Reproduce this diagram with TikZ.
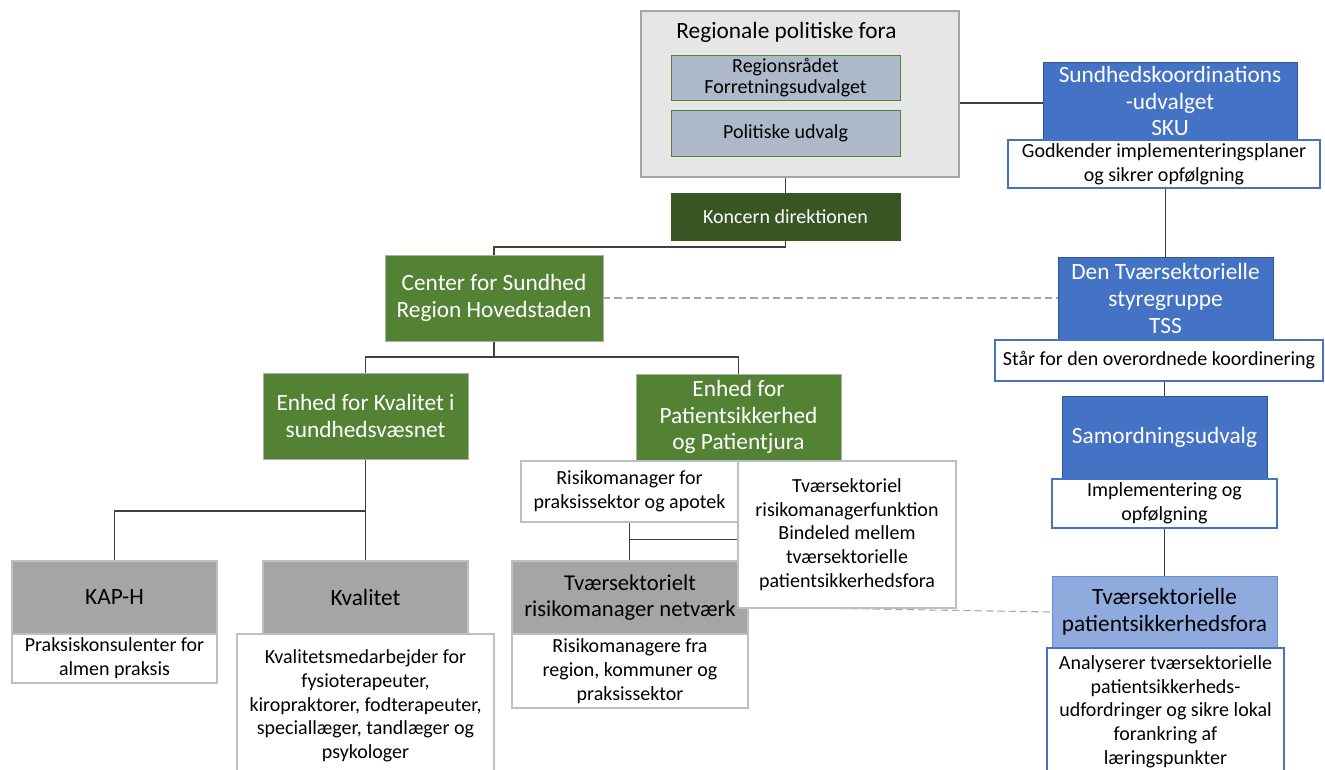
\documentclass[tikz,border=0pt]{standalone}
\usepackage{fontspec}
\setmainfont{Carlito}
\usetikzlibrary{backgrounds,calc}
\definecolor{outergray}{HTML}{E7E6E6}
\definecolor{outerline}{HTML}{A6A6A6}
\definecolor{slate}{HTML}{ADB9CA}
\definecolor{dkgreen}{HTML}{375623}
\definecolor{midgreen}{HTML}{548235}
\definecolor{boxgray}{HTML}{A5A5A5}
\definecolor{lightline}{HTML}{BFBFBF}
\definecolor{blue1}{HTML}{4472C4}
\definecolor{blue1line}{HTML}{2F5597}
\definecolor{blue2}{HTML}{8FAADC}
\definecolor{conn}{HTML}{404040}
\tikzset{
  bigtxt/.style={font=\fontsize{17.5}{20}\selectfont},
  smalltxt/.style={font=\fontsize{15}{17.8}\selectfont},
  tinytxt/.style={font=\fontsize{15}{15.8}\selectfont},
  base/.style={rectangle, inner sep=0pt, outer sep=0pt, align=center},
  outerbox/.style={base, fill=outergray, draw=outerline, line width=0.9pt},
  slatebox/.style={base, fill=slate, draw=midgreen, line width=0.6pt, tinytxt},
  dkgbox/.style={base, fill=dkgreen, draw=dkgreen, text=white, tinytxt},
  gbox/.style={base, fill=midgreen, draw=lightline!80!midgreen, line width=0.6pt, text=white, bigtxt},
  graybox/.style={base, fill=boxgray, draw=lightline, line width=0.8pt, bigtxt},
  wgbox/.style={base, fill=white, draw=lightline, line width=1.2pt, smalltxt},
  bbox/.style={base, fill=blue1, draw=blue1line, line width=0.6pt, text=white, bigtxt},
  lbbox/.style={base, fill=blue2, draw=blue1!80, line width=0.6pt, bigtxt},
  wbbox/.style={base, fill=white, draw=blue1, line width=1.2pt, smalltxt},
  link/.style={draw=conn, line width=0.8pt},
  dlink/.style={draw=outerline, line width=0.8pt, dash pattern=on 5.5pt off 3pt},
}
% \placebox{style}{name}{x1}{y1}{x2}{y2}{text}
\newcommand{\placebox}[7]{%
  \node[#1, minimum width={(#5-#3)*0.75pt}, minimum height={(#6-#4)*0.75pt}]
    (#2) at ({(#3+#5)/2},{(#4+#6)/2}) {#7};}
\begin{document}
\begin{tikzpicture}[x=0.75pt,y=-0.75pt]
\useasboundingbox (0,0) rectangle (1325,769);
% top political box
\placebox{outerbox}{reg}{641}{11}{959}{177}{}
\node[bigtxt] (regt) at (786.5,32) {Regionale politiske fora};
\placebox{slatebox}{rr}{671}{55}{900}{100}{Regionsrådet\\Forretningsudvalget}
\placebox{slatebox}{pu}{671}{110}{900}{156}{Politiske udvalg}
\placebox{dkgbox}{kd}{671}{193}{900}{240}{Koncern direktionen}
% green hierarchy
\placebox{gbox}{cs}{385}{255}{603}{341}{Center for Sundhed\\Region Hovedstaden}
\placebox{gbox}{ek}{263}{373}{468}{459}{Enhed for Kvalitet i\\sundhedsvæsnet}
\placebox{gbox}{ep}{636}{374}{841}{460}{Enhed for\\Patientsikkerhed\\og Patientjura}
% grey units
\placebox{graybox}{kap}{12}{561}{217}{634}{KAP-H}
\placebox{wgbox}{kapd}{12}{634}{217}{683}{Praksiskonsulenter for\\almen praksis}
\placebox{graybox}{kv}{263}{561}{468}{634}{Kvalitet}
\placebox{wgbox}{kvd}{237}{634}{494}{778}{Kvalitetsmedarbejder for\\fysioterapeuter,\\kiropraktorer, fodterapeuter,\\speciallæger, tandlæger og\\psykologer}
\placebox{wgbox}{rm}{521}{461}{738}{522}{Risikomanager for\\praksissektor og apotek}
\placebox{graybox, font=\fontsize{17}{20}\selectfont}{tn}{512}{561}{748}{634}{Tværsektorielt\\risikomanager netværk}
\placebox{wgbox}{tnd}{512}{634}{748}{708}{Risikomanagere fra\\region, kommuner og\\praksissektor}
\placebox{wgbox}{tf}{738}{461}{956}{608}{Tværsektoriel\\risikomanagerfunktion\\Bindeled mellem\\tværsektorielle\\patientsikkerhedsfora}
% right column
\placebox{bbox}{sku}{1043}{62}{1297}{140}{Sundhedskoordinations\\-udvalget\\SKU}
\placebox{wbbox}{skud}{1008}{140}{1320}{188}{Godkender implementeringsplaner\\og sikrer opfølgning}
\placebox{bbox}{tss}{1058}{257}{1273}{340}{Den Tværsektorielle\\styregruppe\\TSS}
\placebox{wbbox}{tssd}{995}{340}{1323}{381}{Står for den overordnede koordinering}
\placebox{bbox}{sam}{1062}{396}{1267}{479}{Samordningsudvalg}
\placebox{wbbox}{samd}{1052}{479}{1277}{528}{Implementering og\\opfølgning}
\placebox{lbbox}{fora}{1052}{576}{1277}{648}{Tværsektorielle\\patientsikkerhedsfora}
\placebox{wbbox}{forad}{1047}{648}{1284}{775}{Analyserer tværsektorielle\\patientsikkerheds-\\udfordringer og sikre lokal\\forankring af\\læringspunkter}
% connectors
\begin{scope}[on background layer]
\draw[link] (sku.west) ++(0,2) coordinate (skuw) -- (skuw -| reg.east);
\draw[link] (kd.north |- reg.south) -- (kd.north);
\draw[link] (kd.south) -- ++(0,7) -| (cs.north);
\draw[link] (cs.south) -- ++(0,16) -| (ek.north);
\draw[link] (cs.south) -- ++(0,16) -| (ep.north);
\draw[link] (ek.south) -- ++(0,52) -| (kap.north);
\draw[link] (ek.south) -- ++(0,52) -| (kv.north);
\draw[link] (rm.south) -- (rm.south |- tn.north);
\coordinate (rj) at ($(rm.south)!0.46!(rm.south |- tn.north)$);
\draw[link] (rj) -- (rj -| tf.west);
\draw[link] (skud.south -| tss.north) -- (tss.north);
\draw[link] (tssd.south -| sam.north) -- (sam.north);
\draw[link] (samd.south) -- (fora.north);
\draw[dlink] (cs.east) -- (cs.east -| tss.west);
\coordinate (tnr) at ($(tn.north east)!0.63!(tn.south east)$);
\draw[dlink] (tnr) -- (fora.west);
\end{scope}
\end{tikzpicture}
\end{document}
